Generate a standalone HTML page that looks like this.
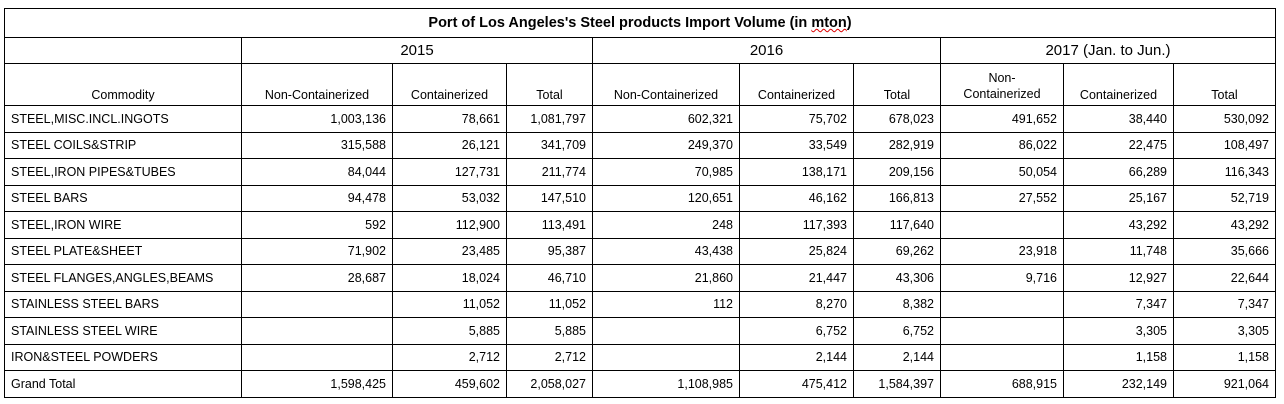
<!DOCTYPE html>
<html><head><meta charset="utf-8"><style>
html,body{margin:0;padding:0;background:#fff;width:1284px;height:404px;overflow:hidden}
table{position:absolute;left:4px;top:8px;border-collapse:collapse;table-layout:fixed;font-family:"Liberation Sans",sans-serif;font-size:12.5px;color:#000}
td{border:1px solid #000;padding:0 6px;white-space:nowrap;overflow:hidden}
.t{height:28px;text-align:center;font-weight:bold;font-size:14.5px}
.y{height:25px;text-align:center;font-size:15px}
.h td{height:38px;text-align:center;vertical-align:bottom;padding-bottom:3px}
.d td{height:25.5px;text-align:right}
.d td:first-child{text-align:left}
.sp{text-decoration:underline wavy #d00;text-decoration-thickness:1px}
</style></head><body>
<table>
<colgroup><col style="width:237px"><col style="width:151px"><col style="width:114px"><col style="width:86px"><col style="width:147px"><col style="width:114px"><col style="width:87px"><col style="width:123px"><col style="width:110px"><col style="width:102px"></colgroup>
<tr><td class="t" colspan="10">Port of Los Angeles's Steel products Import Volume (in <span class="sp">mton</span>)</td></tr>
<tr><td class="y"></td><td class="y" colspan="3">2015</td><td class="y" colspan="3">2016</td><td class="y" colspan="3">2017 (Jan. to Jun.)</td></tr>
<tr class="h"><td>Commodity</td><td>Non-Containerized</td><td>Containerized</td><td>Total</td><td>Non-Containerized</td><td>Containerized</td><td>Total</td><td style="line-height:16px">Non-<br>Containerized</td><td>Containerized</td><td>Total</td></tr>
<tr class="d"><td>STEEL,MISC.INCL.INGOTS</td><td>1,003,136</td><td>78,661</td><td>1,081,797</td><td>602,321</td><td>75,702</td><td>678,023</td><td>491,652</td><td>38,440</td><td>530,092</td></tr>
<tr class="d"><td>STEEL COILS&amp;STRIP</td><td>315,588</td><td>26,121</td><td>341,709</td><td>249,370</td><td>33,549</td><td>282,919</td><td>86,022</td><td>22,475</td><td>108,497</td></tr>
<tr class="d"><td>STEEL,IRON PIPES&amp;TUBES</td><td>84,044</td><td>127,731</td><td>211,774</td><td>70,985</td><td>138,171</td><td>209,156</td><td>50,054</td><td>66,289</td><td>116,343</td></tr>
<tr class="d"><td>STEEL BARS</td><td>94,478</td><td>53,032</td><td>147,510</td><td>120,651</td><td>46,162</td><td>166,813</td><td>27,552</td><td>25,167</td><td>52,719</td></tr>
<tr class="d"><td>STEEL,IRON WIRE</td><td>592</td><td>112,900</td><td>113,491</td><td>248</td><td>117,393</td><td>117,640</td><td></td><td>43,292</td><td>43,292</td></tr>
<tr class="d"><td>STEEL PLATE&amp;SHEET</td><td>71,902</td><td>23,485</td><td>95,387</td><td>43,438</td><td>25,824</td><td>69,262</td><td>23,918</td><td>11,748</td><td>35,666</td></tr>
<tr class="d"><td>STEEL FLANGES,ANGLES,BEAMS</td><td>28,687</td><td>18,024</td><td>46,710</td><td>21,860</td><td>21,447</td><td>43,306</td><td>9,716</td><td>12,927</td><td>22,644</td></tr>
<tr class="d"><td>STAINLESS STEEL BARS</td><td></td><td>11,052</td><td>11,052</td><td>112</td><td>8,270</td><td>8,382</td><td></td><td>7,347</td><td>7,347</td></tr>
<tr class="d"><td>STAINLESS STEEL WIRE</td><td></td><td>5,885</td><td>5,885</td><td></td><td>6,752</td><td>6,752</td><td></td><td>3,305</td><td>3,305</td></tr>
<tr class="d"><td>IRON&amp;STEEL POWDERS</td><td></td><td>2,712</td><td>2,712</td><td></td><td>2,144</td><td>2,144</td><td></td><td>1,158</td><td>1,158</td></tr>
<tr class="d"><td>Grand Total</td><td>1,598,425</td><td>459,602</td><td>2,058,027</td><td>1,108,985</td><td>475,412</td><td>1,584,397</td><td>688,915</td><td>232,149</td><td>921,064</td></tr>
</table>
</body></html>
